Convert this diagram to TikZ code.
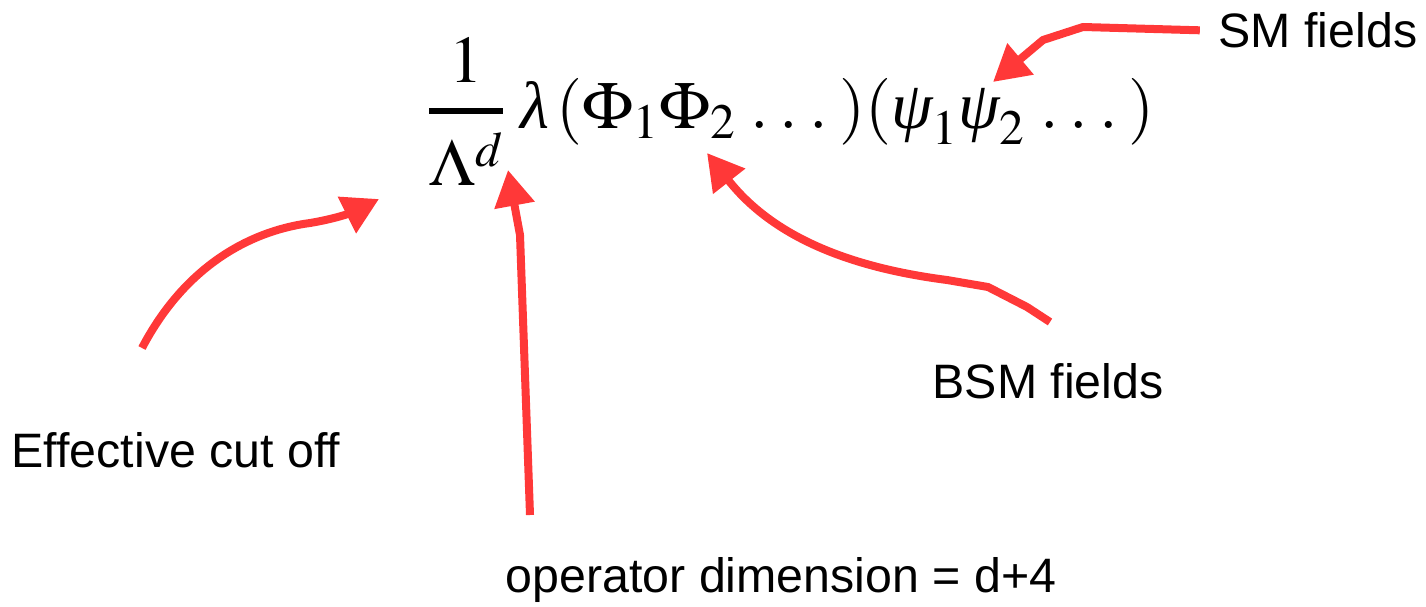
\documentclass[tikz,border=0pt]{standalone}
\usepackage{mathptmx}
\usepackage{amsmath}
\usepackage[no-math]{fontspec}
\setmainfont{Liberation Sans}
\newfontfamily\greekserif{Liberation Serif}
\newcommand{\gkit}[1]{\text{\greekserif\itshape #1}}
\newcommand{\spreaddots}{\mkern4mu.\mkern3mu.\mkern3mu.\mkern3mu}
\usetikzlibrary{arrows.meta}
\usepackage{xcolor}
\definecolor{arrowred}{HTML}{FF3838}

\begin{document}
\begin{tikzpicture}[x=0.02cm, y=0.02cm,
			label/.style = {font=\fontsize{27.5}{32}\selectfont, inner sep=2pt, anchor=base},
			pointer/.style = {draw=arrowred, line width=0.16cm, line join=round,
				-{Triangle[length=0.72cm, width=0.78cm]}}
			]
			\useasboundingbox (0,0) rectangle (1426,606);
			
			\node[anchor=west, inner sep=0pt] (formula) at (427,494) {\fontsize{38}{44}\selectfont
				$\genfrac{}{}{3.4pt}{0}{1}{\Lambda^d}\;\gkit{λ}\,(\Phi_1\Phi_2\spreaddots)(\gkit{ψ}_1\gkit{ψ}_2\spreaddots)$};
			
			\node[label] (sm) at (1318,558) {SM fields};
			\node[label] (bsm) at (1048,208) {BSM fields};
			\node[label] (cutoff) at (176,139) {Effective cut off};
			\node[label] (opdim) at (781,14) {operator dimension = d+4};
			
			% arrow ends
			\coordinate (smtip) at (993,524);
			\coordinate (bsmstart) at (1050,284);
			\coordinate (bsmtip) at (707,453);
			\coordinate (cutstart) at (142,258);
			\coordinate (cuttip) at (379,407);
			\coordinate (opstart) at (530,91);
			\coordinate (optip) at (508,436);
			
			\draw[pointer, shorten <=0.3cm] (sm.west) -- (1083,579) -- (1043,566) -- (smtip);
			\draw[pointer] (bsmstart) -- (1027,299) -- (988,319) -- (947,326)
				.. controls (870,336) and (780,360) .. (bsmtip);
			\draw[pointer] (cutstart) .. controls (185,340) and (250,375) .. (310,383)
				.. controls (340,388) and (355,395) .. (cuttip);
			\draw[pointer] (opstart) -- (520,371) -- (optip);
		\end{tikzpicture}
\end{document}
